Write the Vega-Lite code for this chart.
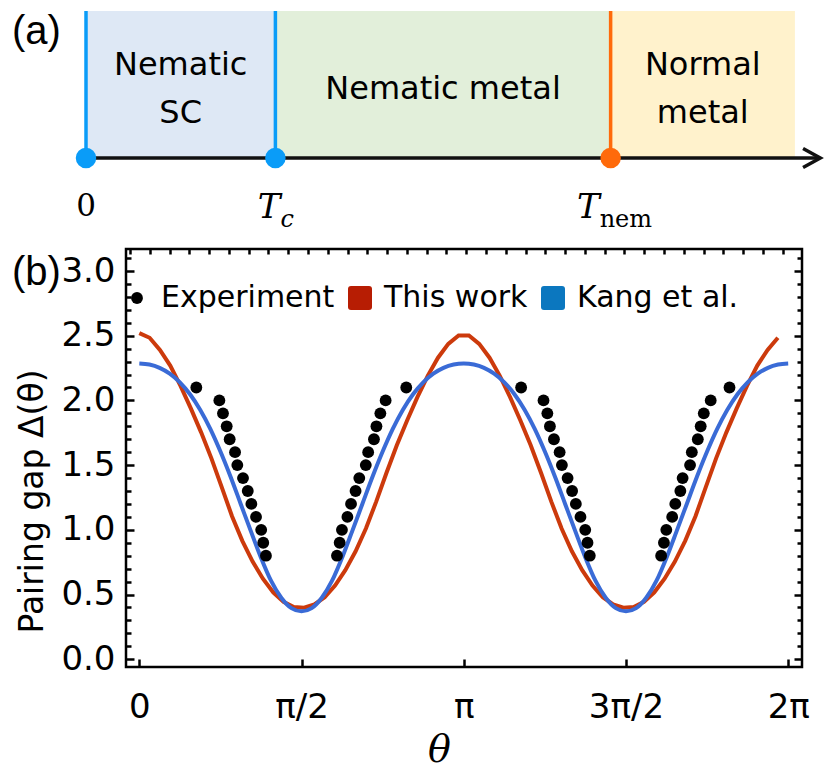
{
  "$schema": "https://vega.github.io/schema/vega-lite/v6.json",
  "padding": {"left": 10, "top": 0, "right": 0, "bottom": 0},
  "background": "white",
  "spacing": 7,
  "config": {"font": "DejaVu Sans", "axis": {"grid": false}},
  "resolve": {
    "scale": {"color": "independent", "fill": "independent", "shape": "independent", "size": "independent"},
    "legend": {"color": "independent", "fill": "independent", "shape": "independent", "size": "independent"}
  },
  "vconcat": [
    {
      "width": 676,
      "height": 230,
      "view": {"stroke": null},
      "layer": [
        {
          "data": {"values": [
            {"start": 0, "end": 1, "phase": "Nematic SC"},
            {"start": 1, "end": 2.77, "phase": "Nematic metal"},
            {"start": 2.77, "end": 3.743, "phase": "Normal metal"}
          ]},
          "mark": {"type": "rect"},
          "encoding": {
            "x": {"field": "start", "type": "quantitative", "scale": {"domain": [0.2112, 3.7804], "nice": false, "zero": false}, "axis": null},
            "x2": {"field": "end"},
            "y": {"datum": 0, "type": "quantitative", "scale": {"domain": [-72, 158], "nice": false, "zero": false}, "axis": null},
            "y2": {"datum": 147},
            "fill": {"field": "phase", "type": "nominal", "scale": {"domain": ["Nematic SC", "Nematic metal", "Normal metal"], "range": ["#DEE8F5", "#E2EFDA", "#FFF2CC"]}, "legend": null}
          }
        },
        {
          "data": {"values": [
            {"t": 0, "kind": "sc"},
            {"t": 1, "kind": "sc"},
            {"t": 2.77, "kind": "nem"}
          ]},
          "mark": {"type": "rule", "strokeWidth": 3.5},
          "encoding": {
            "x": {"field": "t", "type": "quantitative"},
            "y": {"datum": 0, "type": "quantitative"},
            "y2": {"datum": 147},
            "color": {"field": "kind", "type": "nominal", "scale": {"domain": ["sc", "nem"], "range": ["#0A9CF8", "#FF6A0A"]}, "legend": null}
          }
        },
        {
          "data": {"values": [{"start": 0, "end": 3.872}]},
          "mark": {"type": "rule", "strokeWidth": 3.5, "color": "#111111"},
          "encoding": {
            "x": {"field": "start", "type": "quantitative"},
            "x2": {"field": "end"},
            "y": {"datum": 0, "type": "quantitative"}
          }
        },
        {
          "data": {"values": [
            {"t": 3.786, "y": 9.5, "o": 1},
            {"t": 3.877, "y": 0, "o": 2},
            {"t": 3.786, "y": -9.5, "o": 3}
          ]},
          "mark": {"type": "line", "strokeWidth": 3.5, "color": "#111111", "strokeJoin": "miter", "strokeCap": "butt"},
          "encoding": {
            "x": {"field": "t", "type": "quantitative"},
            "y": {"field": "y", "type": "quantitative"},
            "order": {"field": "o", "type": "quantitative"}
          }
        },
        {
          "data": {"values": [
            {"t": 0, "kind": "sc"},
            {"t": 1, "kind": "sc"},
            {"t": 2.77, "kind": "nem"}
          ]},
          "mark": {"type": "point", "filled": true, "size": 420, "opacity": 1},
          "encoding": {
            "x": {"field": "t", "type": "quantitative"},
            "y": {"datum": 0, "type": "quantitative"},
            "color": {"field": "kind", "type": "nominal", "legend": null}
          }
        },
        {
          "data": {"values": [
            {"t": 0.5, "y": 83, "s": "Nematic"},
            {"t": 0.5, "y": 35, "s": "SC"},
            {"t": 1.885, "y": 59, "s": "Nematic metal"},
            {"t": 3.2565, "y": 83, "s": "Normal"},
            {"t": 3.2565, "y": 35, "s": "metal"}
          ]},
          "mark": {"type": "text", "font": "DejaVu Sans", "fontSize": 32, "align": "center", "baseline": "alphabetic", "color": "black"},
          "encoding": {
            "x": {"field": "t", "type": "quantitative"},
            "y": {"field": "y", "type": "quantitative"},
            "text": {"field": "s"}
          }
        },
        {
          "data": {"values": [{"t": -0.3907, "y": 126, "s": "(a)"}]},
          "mark": {"type": "text", "font": "Liberation Sans", "fontSize": 40, "align": "left", "baseline": "middle", "color": "black"},
          "encoding": {
            "x": {"field": "t", "type": "quantitative"},
            "y": {"field": "y", "type": "quantitative"},
            "text": {"field": "s"}
          }
        },
        {
          "data": {"values": [{"t": 0, "y": -58, "s": "0"}]},
          "mark": {"type": "text", "font": "DejaVu Serif", "fontSize": 31, "align": "center", "baseline": "alphabetic", "color": "black"},
          "encoding": {
            "x": {"field": "t", "type": "quantitative"},
            "y": {"field": "y", "type": "quantitative"},
            "text": {"field": "s"}
          }
        },
        {
          "data": {"values": [{"t": 1, "y": -60, "s": "T"}]},
          "mark": {"type": "text", "font": "DejaVu Serif", "fontStyle": "italic", "fontSize": 34, "align": "right", "baseline": "alphabetic", "dx": 5, "color": "black"},
          "encoding": {
            "x": {"field": "t", "type": "quantitative"},
            "y": {"field": "y", "type": "quantitative"},
            "text": {"field": "s"}
          }
        },
        {
          "data": {"values": [{"t": 1, "y": -69, "s": "c"}]},
          "mark": {"type": "text", "font": "DejaVu Serif", "fontStyle": "italic", "fontSize": 24, "align": "left", "baseline": "alphabetic", "dx": 5, "color": "black"},
          "encoding": {
            "x": {"field": "t", "type": "quantitative"},
            "y": {"field": "y", "type": "quantitative"},
            "text": {"field": "s"}
          }
        },
        {
          "data": {"values": [{"t": 2.77, "y": -60, "s": "T"}]},
          "mark": {"type": "text", "font": "DejaVu Serif", "fontStyle": "italic", "fontSize": 34, "align": "right", "baseline": "alphabetic", "dx": -11, "color": "black"},
          "encoding": {
            "x": {"field": "t", "type": "quantitative"},
            "y": {"field": "y", "type": "quantitative"},
            "text": {"field": "s"}
          }
        },
        {
          "data": {"values": [{"t": 2.77, "y": -69, "s": "nem"}]},
          "mark": {"type": "text", "font": "DejaVu Serif", "fontSize": 24, "align": "left", "baseline": "alphabetic", "dx": -11, "color": "black"},
          "encoding": {
            "x": {"field": "t", "type": "quantitative"},
            "y": {"field": "y", "type": "quantitative"},
            "text": {"field": "s"}
          }
        }
      ]
    },
    {
      "width": 676,
      "height": 418,
      "view": {"stroke": "black", "strokeWidth": 2.5},
      "resolve": {"axis": {"x": "independent", "y": "independent"}},
      "layer": [
        {
          "data": {"values": [
            {"theta": 0, "gap": 2.52}, {"theta": 0.0997, "gap": 2.484}, {"theta": 0.1995, "gap": 2.39}, {"theta": 0.2992, "gap": 2.269},
            {"theta": 0.3989, "gap": 2.112}, {"theta": 0.4987, "gap": 1.938}, {"theta": 0.5984, "gap": 1.753}, {"theta": 0.6981, "gap": 1.552},
            {"theta": 0.7979, "gap": 1.33}, {"theta": 0.8976, "gap": 1.105}, {"theta": 0.9973, "gap": 0.915}, {"theta": 1.0971, "gap": 0.755},
            {"theta": 1.1968, "gap": 0.622}, {"theta": 1.2965, "gap": 0.517}, {"theta": 1.3963, "gap": 0.443}, {"theta": 1.496, "gap": 0.403},
            {"theta": 1.5958, "gap": 0.398}, {"theta": 1.6955, "gap": 0.423}, {"theta": 1.7952, "gap": 0.479}, {"theta": 1.895, "gap": 0.569},
            {"theta": 1.9947, "gap": 0.688}, {"theta": 2.0944, "gap": 0.834}, {"theta": 2.1942, "gap": 1.01}, {"theta": 2.2939, "gap": 1.218},
            {"theta": 2.3936, "gap": 1.441}, {"theta": 2.4934, "gap": 1.653}, {"theta": 2.5931, "gap": 1.845}, {"theta": 2.6928, "gap": 2.025},
            {"theta": 2.7926, "gap": 2.19}, {"theta": 2.8923, "gap": 2.33}, {"theta": 2.992, "gap": 2.437}, {"theta": 3.0918, "gap": 2.502},
            {"theta": 3.1915, "gap": 2.502}, {"theta": 3.2912, "gap": 2.437}, {"theta": 3.391, "gap": 2.33}, {"theta": 3.4907, "gap": 2.19},
            {"theta": 3.5904, "gap": 2.025}, {"theta": 3.6902, "gap": 1.845}, {"theta": 3.7899, "gap": 1.653}, {"theta": 3.8896, "gap": 1.441},
            {"theta": 3.9894, "gap": 1.218}, {"theta": 4.0891, "gap": 1.01}, {"theta": 4.1888, "gap": 0.834}, {"theta": 4.2886, "gap": 0.688},
            {"theta": 4.3883, "gap": 0.569}, {"theta": 4.488, "gap": 0.479}, {"theta": 4.5878, "gap": 0.423}, {"theta": 4.6875, "gap": 0.398},
            {"theta": 4.7872, "gap": 0.403}, {"theta": 4.887, "gap": 0.443}, {"theta": 4.9867, "gap": 0.517}, {"theta": 5.0864, "gap": 0.622},
            {"theta": 5.1862, "gap": 0.755}, {"theta": 5.2859, "gap": 0.915}, {"theta": 5.3856, "gap": 1.105}, {"theta": 5.4854, "gap": 1.33},
            {"theta": 5.5851, "gap": 1.552}, {"theta": 5.6848, "gap": 1.753}, {"theta": 5.7846, "gap": 1.938}, {"theta": 5.8843, "gap": 2.112},
            {"theta": 5.984, "gap": 2.269}, {"theta": 6.0838, "gap": 2.39}, {"theta": 6.1835, "gap": 2.484}
          ]},
          "mark": {"type": "line", "color": "#CC3A0C", "strokeWidth": 4, "interpolate": "linear"},
          "encoding": {
            "x": {"field": "theta", "type": "quantitative", "scale": {"domain": [-0.129, 6.417], "nice": false, "zero": false},
              "axis": {"orient": "bottom", "values": [0, 1.5708, 3.1416, 4.7124, 6.2832], "labelExpr": "['0','π/2','π','3π/2','2π'][round(datum.value/1.5708)]",
                "domain": false, "tickSize": -8, "tickWidth": 2.5, "tickColor": "black", "labelFont": "DejaVu Sans", "labelFontSize": 34, "labelColor": "black",
                "labelPadding": 31, "labelFlush": false, "labelOverlap": false,
                "title": "θ", "titleFont": "DejaVu Serif", "titleFontStyle": "italic", "titleFontWeight": "normal", "titleFontSize": 38, "titleColor": "black",
                "titleX": 313, "titleY": 94, "titleBaseline": "alphabetic"}},
            "y": {"field": "gap", "type": "quantitative", "scale": {"domain": [-0.06, 3.17], "nice": false, "zero": false},
              "axis": {"orient": "left", "values": [0, 0.1, 0.2, 0.3, 0.4, 0.5, 0.6, 0.7, 0.8, 0.9, 1, 1.1, 1.2, 1.3, 1.4, 1.5, 1.6, 1.7, 1.8, 1.9, 2, 2.1, 2.2, 2.3, 2.4, 2.5, 2.6, 2.7, 2.8, 2.9, 3, 3.1],
                "labelExpr": "abs(datum.value*2 - round(datum.value*2)) < 0.01 ? format(datum.value, '.1f') : ''",
                "domain": false, "tickSize": {"condition": {"test": "abs(datum.value*2 - round(datum.value*2)) < 0.01", "value": -8}, "value": -5},
                "tickWidth": 2.5, "tickColor": "black", "labelFont": "DejaVu Sans", "labelFontSize": 34, "labelColor": "black", "labelPadding": 19, "labelOverlap": false,
                "title": "Pairing gap Δ(θ)", "titleFont": "DejaVu Sans", "titleFontSize": 33, "titleFontWeight": "normal", "titleColor": "black",
                "titleX": -84, "titleY": 252, "titleBaseline": "alphabetic", "titleAlign": "center", "titleAngle": -90}}
          }
        },
        {
          "data": {"values": [
            {"theta": 0, "gap": 2.285}, {"theta": 0.0982, "gap": 2.277}, {"theta": 0.1963, "gap": 2.252}, {"theta": 0.2945, "gap": 2.207},
            {"theta": 0.3927, "gap": 2.14}, {"theta": 0.4909, "gap": 2.048}, {"theta": 0.589, "gap": 1.928}, {"theta": 0.6872, "gap": 1.78},
            {"theta": 0.7854, "gap": 1.605}, {"theta": 0.8836, "gap": 1.41}, {"theta": 0.9817, "gap": 1.2}, {"theta": 1.0799, "gap": 0.99},
            {"theta": 1.1781, "gap": 0.785}, {"theta": 1.2763, "gap": 0.605}, {"theta": 1.3744, "gap": 0.475}, {"theta": 1.4726, "gap": 0.395},
            {"theta": 1.5708, "gap": 0.37}, {"theta": 1.669, "gap": 0.395}, {"theta": 1.7671, "gap": 0.475}, {"theta": 1.8653, "gap": 0.605},
            {"theta": 1.9635, "gap": 0.785}, {"theta": 2.0617, "gap": 0.99}, {"theta": 2.1598, "gap": 1.2}, {"theta": 2.258, "gap": 1.41},
            {"theta": 2.3562, "gap": 1.605}, {"theta": 2.4544, "gap": 1.78}, {"theta": 2.5525, "gap": 1.928}, {"theta": 2.6507, "gap": 2.048},
            {"theta": 2.7489, "gap": 2.14}, {"theta": 2.8471, "gap": 2.207}, {"theta": 2.9452, "gap": 2.252}, {"theta": 3.0434, "gap": 2.277},
            {"theta": 3.1416, "gap": 2.285}, {"theta": 3.2398, "gap": 2.277}, {"theta": 3.3379, "gap": 2.252}, {"theta": 3.4361, "gap": 2.207},
            {"theta": 3.5343, "gap": 2.14}, {"theta": 3.6325, "gap": 2.048}, {"theta": 3.7306, "gap": 1.928}, {"theta": 3.8288, "gap": 1.78},
            {"theta": 3.927, "gap": 1.605}, {"theta": 4.0252, "gap": 1.41}, {"theta": 4.1233, "gap": 1.2}, {"theta": 4.2215, "gap": 0.99},
            {"theta": 4.3197, "gap": 0.785}, {"theta": 4.4179, "gap": 0.605}, {"theta": 4.516, "gap": 0.475}, {"theta": 4.6142, "gap": 0.395},
            {"theta": 4.7124, "gap": 0.37}, {"theta": 4.8106, "gap": 0.395}, {"theta": 4.9087, "gap": 0.475}, {"theta": 5.0069, "gap": 0.605},
            {"theta": 5.1051, "gap": 0.785}, {"theta": 5.2033, "gap": 0.99}, {"theta": 5.3014, "gap": 1.2}, {"theta": 5.3996, "gap": 1.41},
            {"theta": 5.4978, "gap": 1.605}, {"theta": 5.596, "gap": 1.78}, {"theta": 5.6941, "gap": 1.928}, {"theta": 5.7923, "gap": 2.048},
            {"theta": 5.8905, "gap": 2.14}, {"theta": 5.9887, "gap": 2.207}, {"theta": 6.0868, "gap": 2.252}, {"theta": 6.185, "gap": 2.277},
            {"theta": 6.2832, "gap": 2.285}
          ]},
          "mark": {"type": "line", "color": "#3A6BD6", "strokeWidth": 4, "interpolate": "monotone"},
          "encoding": {
            "x": {"field": "theta", "type": "quantitative",
              "axis": {"orient": "top", "values": [-0.09, 0.1015, 0.293, 0.4845, 0.676, 0.8675, 1.059, 1.2505, 1.442, 1.6335, 1.825, 2.0165, 2.208, 2.3995, 2.591, 2.7825, 2.974, 3.1655, 3.357, 3.5485, 3.74, 3.9315, 4.123, 4.3145, 4.506, 4.6975, 4.889, 5.0805, 5.272, 5.4635, 5.655, 5.8465, 6.038, 6.2295],
                "labels": false, "domain": false, "tickSize": -5, "tickWidth": 2.5, "tickColor": "black", "title": null}},
            "y": {"field": "gap", "type": "quantitative",
              "axis": {"orient": "right", "values": [0, 0.1, 0.2, 0.3, 0.4, 0.5, 0.6, 0.7, 0.8, 0.9, 1, 1.1, 1.2, 1.3, 1.4, 1.5, 1.6, 1.7, 1.8, 1.9, 2, 2.1, 2.2, 2.3, 2.4, 2.5, 2.6, 2.7, 2.8, 2.9, 3, 3.1],
                "labels": false, "domain": false, "tickSize": {"condition": {"test": "abs(datum.value*2 - round(datum.value*2)) < 0.01", "value": -8}, "value": -5},
                "tickWidth": 2.5, "tickColor": "black", "title": null}}
          }
        },
        {
          "data": {"values": [
            {"theta": 0.552, "gap": 2.1, "series": "Experiment"}, {"theta": 0.775, "gap": 2.0, "series": "Experiment"}, {"theta": 0.81, "gap": 1.9, "series": "Experiment"},
            {"theta": 0.846, "gap": 1.8, "series": "Experiment"}, {"theta": 0.875, "gap": 1.7, "series": "Experiment"}, {"theta": 0.927, "gap": 1.6, "series": "Experiment"},
            {"theta": 0.949, "gap": 1.5, "series": "Experiment"}, {"theta": 1.004, "gap": 1.4, "series": "Experiment"}, {"theta": 1.05, "gap": 1.3, "series": "Experiment"},
            {"theta": 1.085, "gap": 1.2, "series": "Experiment"}, {"theta": 1.13, "gap": 1.1, "series": "Experiment"}, {"theta": 1.18, "gap": 1.0, "series": "Experiment"},
            {"theta": 1.2, "gap": 0.9, "series": "Experiment"}, {"theta": 1.226, "gap": 0.8, "series": "Experiment"},
            {"theta": 2.585, "gap": 2.1, "series": "Experiment"}, {"theta": 2.385, "gap": 2.0, "series": "Experiment"}, {"theta": 2.334, "gap": 1.9, "series": "Experiment"},
            {"theta": 2.296, "gap": 1.8, "series": "Experiment"}, {"theta": 2.272, "gap": 1.7, "series": "Experiment"}, {"theta": 2.216, "gap": 1.6, "series": "Experiment"},
            {"theta": 2.193, "gap": 1.5, "series": "Experiment"}, {"theta": 2.13, "gap": 1.4, "series": "Experiment"}, {"theta": 2.094, "gap": 1.3, "series": "Experiment"},
            {"theta": 2.05, "gap": 1.2, "series": "Experiment"}, {"theta": 2.015, "gap": 1.1, "series": "Experiment"}, {"theta": 1.962, "gap": 1.0, "series": "Experiment"},
            {"theta": 1.94, "gap": 0.9, "series": "Experiment"}, {"theta": 1.914, "gap": 0.8, "series": "Experiment"},
            {"theta": 3.697, "gap": 2.1, "series": "Experiment"}, {"theta": 3.914, "gap": 2.0, "series": "Experiment"}, {"theta": 3.951, "gap": 1.9, "series": "Experiment"},
            {"theta": 3.976, "gap": 1.8, "series": "Experiment"}, {"theta": 4.015, "gap": 1.7, "series": "Experiment"}, {"theta": 4.07, "gap": 1.6, "series": "Experiment"},
            {"theta": 4.092, "gap": 1.5, "series": "Experiment"}, {"theta": 4.147, "gap": 1.4, "series": "Experiment"}, {"theta": 4.191, "gap": 1.3, "series": "Experiment"},
            {"theta": 4.227, "gap": 1.2, "series": "Experiment"}, {"theta": 4.272, "gap": 1.1, "series": "Experiment"}, {"theta": 4.318, "gap": 1.0, "series": "Experiment"},
            {"theta": 4.34, "gap": 0.9, "series": "Experiment"}, {"theta": 4.362, "gap": 0.8, "series": "Experiment"},
            {"theta": 5.715, "gap": 2.1, "series": "Experiment"}, {"theta": 5.533, "gap": 2.0, "series": "Experiment"}, {"theta": 5.466, "gap": 1.9, "series": "Experiment"},
            {"theta": 5.436, "gap": 1.8, "series": "Experiment"}, {"theta": 5.408, "gap": 1.7, "series": "Experiment"}, {"theta": 5.35, "gap": 1.6, "series": "Experiment"},
            {"theta": 5.333, "gap": 1.5, "series": "Experiment"}, {"theta": 5.261, "gap": 1.4, "series": "Experiment"}, {"theta": 5.239, "gap": 1.3, "series": "Experiment"},
            {"theta": 5.19, "gap": 1.2, "series": "Experiment"}, {"theta": 5.16, "gap": 1.1, "series": "Experiment"}, {"theta": 5.103, "gap": 1.0, "series": "Experiment"},
            {"theta": 5.08, "gap": 0.9, "series": "Experiment"}, {"theta": 5.053, "gap": 0.8, "series": "Experiment"}
          ]},
          "mark": {"type": "point", "filled": true, "opacity": 1},
          "encoding": {
            "x": {"field": "theta", "type": "quantitative", "axis": null},
            "y": {"field": "gap", "type": "quantitative", "axis": null},
            "color": {"field": "series", "type": "nominal",
              "scale": {"domain": ["Experiment", "This work", "Kang et al."], "range": ["#000000", "#B71D03", "#0B77BF"]},
              "legend": {"title": null, "orient": "none", "legendX": -4, "legendY": 34, "direction": "horizontal", "gridAlign": "none",
                "columnPadding": 10, "labelOffset": 9, "labelFont": "DejaVu Sans", "labelFontSize": 30, "labelColor": "black", "labelLimit": 500, "padding": 0}},
            "shape": {"field": "series", "type": "nominal",
              "scale": {"domain": ["Experiment", "This work", "Kang et al."], "range": ["circle", "M-1,-0.75Q-1,-1,-0.75,-1L0.75,-1Q1,-1,1,-0.75L1,0.75Q1,1,0.75,1L-0.75,1Q-1,1,-1,0.75Z", "M-1,-0.75Q-1,-1,-0.75,-1L0.75,-1Q1,-1,1,-0.75L1,0.75Q1,1,0.75,1L-0.75,1Q-1,1,-1,0.75Z"]},
              "legend": {"title": null, "orient": "none", "legendX": -4, "legendY": 34, "direction": "horizontal", "gridAlign": "none",
                "columnPadding": 10, "labelOffset": 9, "labelFont": "DejaVu Sans", "labelFontSize": 30, "labelColor": "black", "labelLimit": 500, "padding": 0}},
            "size": {"field": "series", "type": "nominal",
              "scale": {"type": "ordinal", "domain": ["Experiment", "This work", "Kang et al."], "range": [140, 576, 576]},
              "legend": {"title": null, "orient": "none", "legendX": -4, "legendY": 34, "direction": "horizontal", "gridAlign": "none",
                "columnPadding": 10, "labelOffset": 9, "labelFont": "DejaVu Sans", "labelFontSize": 30, "labelColor": "black", "labelLimit": 500, "padding": 0}}
          }
        },
        {
          "data": {"values": [{"theta": -1.2327, "gap": 2.983, "s": "(b)"}]},
          "mark": {"type": "text", "font": "Liberation Sans", "fontSize": 40, "align": "left", "baseline": "middle", "color": "black"},
          "encoding": {
            "x": {"field": "theta", "type": "quantitative", "axis": null},
            "y": {"field": "gap", "type": "quantitative", "axis": null},
            "text": {"field": "s"}
          }
        }
      ]
    }
  ]
}
